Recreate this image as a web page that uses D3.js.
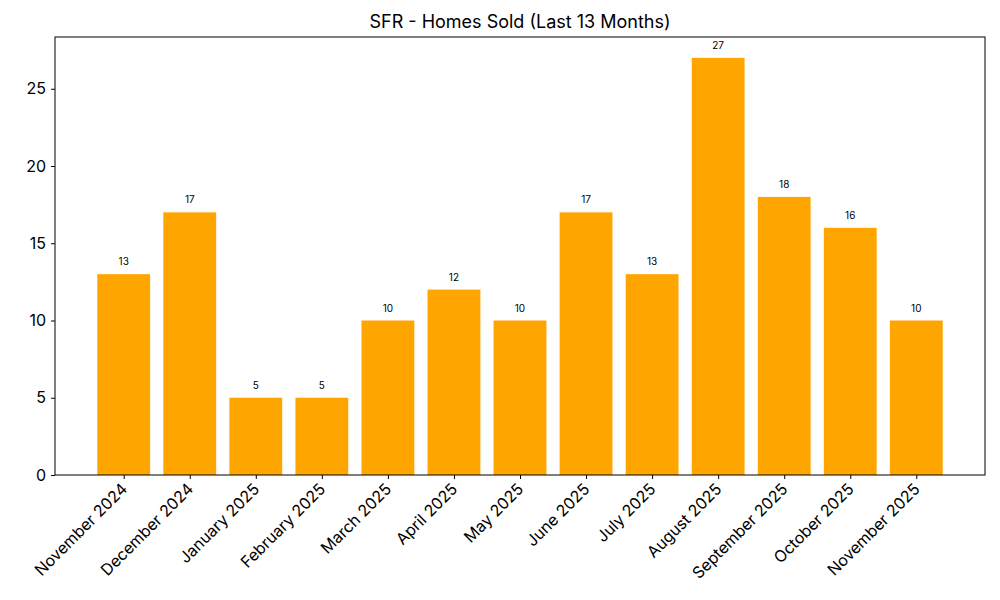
<!DOCTYPE html>
<html><head><meta charset="utf-8">
<script src="https://cdn.jsdelivr.net/npm/d3@7"></script>
<style>body{margin:0;background:#fff;} text{font-family:Inter, Roboto, sans-serif;}</style>
</head><body>
<svg id="c" width="1000" height="600"></svg>
<script>
const months = ["November 2024","December 2024","January 2025","February 2025","March 2025","April 2025","May 2025","June 2025","July 2025","August 2025","September 2025","October 2025","November 2025"];
const sold = [13,17,5,5,10,12,10,17,13,27,18,16,10];
const yTicks = [0,5,10,15,20,25];
const title = "SFR - Homes Sold (Last 13 Months)";

const svg = d3.select("#c");
const L=55,R=985,T=37,B=475;
const x = d3.scaleLinear().domain([-1.04, months.length-1+1.04]).range([L,R]);
const y = d3.scaleLinear().domain([0, d3.max(sold)*1.05]).range([B,T]);
const bw = x(0.8)-x(0);

svg.append("g").selectAll("rect").data(sold).join("rect")
  .attr("x",(d,i)=>x(i)-bw/2).attr("y",d=>y(d))
  .attr("width",bw).attr("height",d=>B-y(d)).attr("fill","#FFA500");

svg.append("g").selectAll("text").data(sold).join("text")
  .attr("x",(d,i)=>x(i)).attr("y",d=>y(d)-9)
  .attr("text-anchor","middle").attr("font-size",10).attr("fill","#000")
  .text(d=>d);

const yAxis = d3.axisLeft(y).tickValues(yTicks).tickSize(4).tickPadding(5);
const gy = svg.append("g").attr("transform",`translate(${L},0)`).call(yAxis);
gy.select(".domain").remove();
gy.selectAll("text").attr("font-size",16).attr("fill","#000").style("font-family","Inter, Roboto, sans-serif");
gy.selectAll("line").attr("stroke","#000");

const xAxis = d3.axisBottom(x).tickValues(d3.range(months.length)).tickFormat(i=>months[i]).tickSize(4);
const gx = svg.append("g").attr("transform",`translate(0,${B})`).call(xAxis);
gx.select(".domain").remove();
gx.selectAll("line").attr("stroke","#000");
gx.selectAll("text").attr("font-size",16).attr("fill","#000").style("font-family","Inter, Roboto, sans-serif")
  .attr("text-anchor","end").attr("dy",null).attr("y",0)
  .attr("transform","translate(4,15) rotate(-45)");

svg.append("rect").attr("x",L).attr("y",T).attr("width",R-L).attr("height",B-T)
  .attr("fill","none").attr("stroke","#000").attr("stroke-width",1);

svg.append("text").attr("x",(L+R)/2).attr("y",28).attr("text-anchor","middle")
  .attr("font-size",18).attr("fill","#000").text(title);
</script>
</body></html>
